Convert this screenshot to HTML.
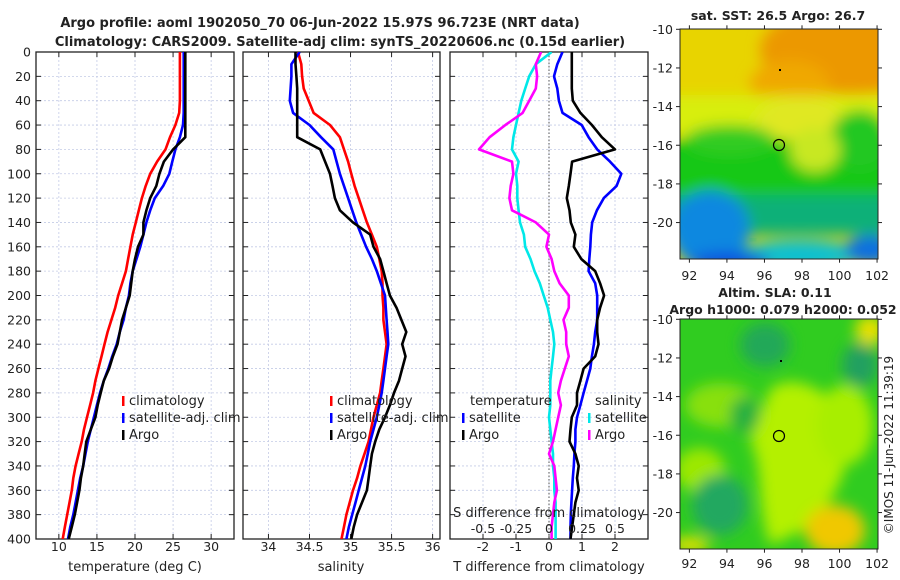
<!DOCTYPE html>
<html><head><meta charset="utf-8">
<style>
html,body{margin:0;padding:0;background:#fff;}
svg{display:block;font-family:"DejaVu Sans","Liberation Sans",sans-serif;}
text{fill:#222;}
</style></head>
<body>
<svg id="fig" width="900" height="580" viewBox="0 0 900 580">
<defs>
<filter id="bl" x="-20%" y="-20%" width="140%" height="140%"><feGaussianBlur stdDeviation="7"/></filter>
<clipPath id="c1"><rect x="680" y="29" width="198" height="230"/></clipPath>
<clipPath id="c2"><rect x="680" y="319" width="198" height="230"/></clipPath>
<clipPath id="p1"><rect x="36" y="52" width="198" height="487"/></clipPath>
<clipPath id="p2"><rect x="243" y="52" width="197" height="487"/></clipPath>
<clipPath id="p3"><rect x="450" y="52" width="198" height="487"/></clipPath>
</defs>
<text x="320" y="27" text-anchor="middle" font-size="13" font-weight="bold">Argo profile: aoml 1902050_70 06-Jun-2022 15.97S 96.723E (NRT data)</text>
<text x="340" y="46" text-anchor="middle" font-size="13" font-weight="bold">Climatology: CARS2009. Satellite-adj clim: synTS_20220606.nc (0.15d earlier)</text>

<g clip-path="url(#c1)">
<rect x="680" y="29" width="198" height="230" fill="#e8d400"/>
<g filter="url(#bl)">
<ellipse cx="850" cy="50" rx="90" ry="45" fill="#ec9800"/>
<ellipse cx="790" cy="85" rx="40" ry="25" fill="#f0a800"/>
<rect x="660" y="95" width="240" height="40" fill="#d8ee10"/>
<ellipse cx="800" cy="125" rx="45" ry="30" fill="#e0e820"/>
<rect x="660" y="140" width="240" height="55" fill="#18c818"/>
<ellipse cx="730" cy="140" rx="45" ry="15" fill="#30cc20"/>
<ellipse cx="860" cy="140" rx="30" ry="30" fill="#20c820"/>
<ellipse cx="815" cy="150" rx="25" ry="22" fill="#c8e820"/>
<rect x="660" y="195" width="240" height="40" fill="#10b078"/>
<ellipse cx="710" cy="230" rx="40" ry="40" fill="#1088e0"/>
<ellipse cx="800" cy="255" rx="60" ry="15" fill="#10c0d0"/>
<ellipse cx="870" cy="250" rx="25" ry="15" fill="#1070e0"/>
<ellipse cx="730" cy="262" rx="40" ry="10" fill="#1050e0"/>
</g>
</g>
<rect x="680" y="29" width="198" height="230" fill="none" stroke="#222" stroke-width="1"/>
<circle cx="779" cy="145" r="5.5" fill="none" stroke="#000" stroke-width="1.2"/>
<rect x="779" y="69" width="2" height="2" fill="#000"/>
<text x="778" y="20" text-anchor="middle" font-size="12.5" font-weight="bold">sat. SST: 26.5 Argo: 26.7</text>

<g clip-path="url(#c2)">
<rect x="680" y="319" width="198" height="230" fill="#30cc20"/>
<g filter="url(#bl)">
<path d="M770,390 C790,370 840,390 845,430 C855,470 830,500 815,525 L770,545 C755,500 765,470 750,440 Z" fill="#b4f000"/>
<ellipse cx="845" cy="425" rx="28" ry="40" fill="#a8ee00"/>
<ellipse cx="720" cy="405" rx="35" ry="22" fill="#88e010"/>
<ellipse cx="700" cy="470" rx="25" ry="22" fill="#9ce800"/>
<ellipse cx="835" cy="530" rx="30" ry="25" fill="#f0c800"/>
<ellipse cx="870" cy="330" rx="15" ry="15" fill="#e8e000"/>
<ellipse cx="720" cy="505" rx="28" ry="30" fill="#20a860"/>
<ellipse cx="765" cy="345" rx="25" ry="22" fill="#20a858"/>
<ellipse cx="860" cy="365" rx="18" ry="22" fill="#20a060"/>
<ellipse cx="745" cy="415" rx="15" ry="18" fill="#28b040"/>
<ellipse cx="690" cy="545" rx="20" ry="8" fill="#e8e000"/>
</g>
</g>
<rect x="680" y="319" width="198" height="230" fill="none" stroke="#222" stroke-width="1"/>
<circle cx="779" cy="436" r="5.5" fill="none" stroke="#000" stroke-width="1.2"/>
<rect x="780" y="360" width="2" height="2" fill="#000"/>
<text x="775" y="297" text-anchor="middle" font-size="12.5" font-weight="bold">Altim. SLA: 0.11</text>
<text x="783" y="314" text-anchor="middle" font-size="12.5" font-weight="bold">Argo h1000: 0.079 h2000: 0.052</text>
<text transform="translate(893,445) rotate(-90)" text-anchor="middle" font-size="12">©IMOS 11-Jun-2022 11:39:19</text>
<g id="g"></g>
</svg>
<script>
// ---- data ----
const depths=[0,10,20,30,40,50,60,70,80,90,100,110,120,130,140,150,160,170,180,190,200,210,220,230,240,250,260,270,280,290,300,310,320,330,340,350,360,370,380,390,400];
const tClim=[25.9,25.9,25.9,25.9,25.9,25.8,25.3,24.6,24.0,22.9,22.0,21.4,20.9,20.5,20.1,19.7,19.4,19.1,18.8,18.3,17.8,17.4,16.9,16.4,16.0,15.6,15.2,14.8,14.5,14.1,13.7,13.3,13.0,12.6,12.2,11.9,11.7,11.4,11.1,10.8,10.5];
const tSat=[26.4,26.4,26.4,26.4,26.4,26.4,26.3,25.9,25.3,24.9,24.5,23.7,22.6,22.0,21.5,21.1,20.7,20.2,19.7,19.4,19.2,18.8,18.5,18.0,17.6,17.0,16.5,15.9,15.4,15.0,14.6,14.2,13.8,13.5,13.2,12.8,12.5,12.2,11.9,11.5,11.2];
const tArgo=[26.6,26.6,26.6,26.6,26.6,26.6,26.6,26.6,25.0,23.8,23.2,22.8,22.0,21.5,21.1,21.1,20.4,20.0,19.7,19.5,19.3,18.8,18.3,18.0,17.7,17.1,16.6,15.9,15.5,15.1,14.8,14.2,13.6,13.4,13.2,12.9,12.7,12.4,12.1,11.7,11.3];
const sClim=[34.36,34.40,34.41,34.43,34.49,34.55,34.75,34.87,34.92,34.97,35.01,35.05,35.10,35.15,35.20,35.26,35.32,35.35,35.38,35.39,35.39,35.40,35.40,35.42,35.44,35.42,35.40,35.38,35.36,35.32,35.28,35.25,35.22,35.17,35.12,35.08,35.03,34.99,34.95,34.92,34.89];
const sSat=[34.38,34.28,34.28,34.27,34.26,34.30,34.50,34.64,34.79,34.83,34.87,34.92,34.97,35.02,35.07,35.13,35.19,35.26,35.32,35.37,35.42,35.43,35.44,35.45,35.46,35.44,35.42,35.40,35.38,35.35,35.32,35.28,35.24,35.21,35.18,35.14,35.10,35.06,35.02,34.98,34.95];
const sArgo=[34.33,34.33,34.34,34.35,34.35,34.35,34.35,34.35,34.63,34.69,34.75,34.78,34.81,34.87,35.03,35.24,35.28,35.36,35.40,35.44,35.48,35.56,35.62,35.68,35.63,35.67,35.63,35.59,35.53,35.48,35.42,35.35,35.30,35.26,35.24,35.22,35.20,35.14,35.08,35.04,35.01];
const dTArgo=[0.69,0.69,0.69,0.69,0.72,0.95,1.3,1.6,2.0,0.7,0.65,0.6,0.54,0.62,0.66,0.8,0.75,0.98,1.4,1.55,1.67,1.55,1.46,1.46,1.5,1.4,1.05,0.95,0.85,0.85,0.69,0.65,0.62,0.8,0.9,0.85,0.9,0.8,0.75,0.7,0.65];
const dTSat=[0.41,0.25,0.15,0.25,0.3,0.41,0.99,1.2,1.46,1.85,2.19,2.05,1.66,1.45,1.31,1.27,1.25,1.22,1.2,1.4,1.46,1.46,1.46,1.4,1.36,1.3,1.25,1.15,1.05,0.95,0.85,0.8,0.8,0.77,0.75,0.72,0.7,0.68,0.66,0.65,0.65];
const dSArgo=[-0.06,-0.1,-0.09,-0.1,-0.15,-0.2,-0.33,-0.45,-0.53,-0.28,-0.27,-0.29,-0.3,-0.28,-0.1,0.0,-0.02,0.02,0.04,0.08,0.15,0.15,0.11,0.13,0.13,0.15,0.12,0.09,0.07,0.09,0.07,0.05,0.03,0.0,0.04,0.05,0.06,0.04,0.03,0.02,0.02];
const dSSat=[0.02,-0.1,-0.15,-0.18,-0.21,-0.23,-0.25,-0.27,-0.28,-0.23,-0.25,-0.24,-0.24,-0.23,-0.22,-0.19,-0.18,-0.14,-0.11,-0.07,-0.04,-0.01,0.01,0.03,0.04,0.03,0.02,0.01,0.01,0.01,0.0,0.01,0.02,0.03,0.03,0.04,0.04,0.05,0.05,0.05,0.05];
const depthTicks=[0,20,40,60,80,100,120,140,160,180,200,220,240,260,280,300,320,340,360,380,400];
const tTicks=[10,15,20,25,30];
const sTicks=[34,34.5,35,35.5,36];
const sTickLabels=["34","34.5","35","35.5","36"];
const dTTicks=[-2,-1,0,1,2];
const dSTicks=[-0.5,-0.25,0,0.25,0.5];
const lonTicks=[92,94,96,98,100,102];
const latTicks=[-10,-12,-14,-16,-18,-20];

const NS="http://www.w3.org/2000/svg";
const G=document.getElementById('g');
function mk(tag,attrs,parent){const e=document.createElementNS(NS,tag);for(const k in attrs)e.setAttribute(k,attrs[k]);(parent||G).appendChild(e);return e;}
const Y0=52,Y1=539;
const yD=d=>Y0+(d/400)*(Y1-Y0);
function lin(d0,d1,r0,r1){return v=>r0+(v-d0)/(d1-d0)*(r1-r0);}
const panels=[
 {x0:36,x1:234,lo:7,hi:33,clip:'p1',name:'temperature-panel'},
 {x0:243,x1:440,lo:33.69,hi:36.09,clip:'p2',name:'salinity-panel'},
 {x0:450,x1:648,lo:-3,hi:3,clip:'p3',name:'difference-panel'}];
panels.forEach(p=>p.x=lin(p.lo,p.hi,p.x0,p.x1));

function panelFrame(p,xt,labels,ticklabelY){
 const g=mk('g',{});
 
 
 depthTicks.forEach(d=>{mk('line',{x1:p.x0,x2:p.x1,y1:yD(d),y2:yD(d),stroke:'#c4cbe6','stroke-width':0.8,'stroke-dasharray':'2,2'},g);
  mk('line',{x1:p.x0,x2:p.x0+5,y1:yD(d),y2:yD(d),stroke:'#222'},g);mk('line',{x1:p.x1-5,x2:p.x1,y1:yD(d),y2:yD(d),stroke:'#222'},g);});
 xt.forEach((v,i)=>{const X=p.x(v);mk('line',{x1:X,x2:X,y1:Y0,y2:Y1,stroke:'#c4cbe6','stroke-width':0.8,'stroke-dasharray':'2,2'},g);
  mk('line',{x1:X,x2:X,y1:Y1-5,y2:Y1,stroke:'#222'},g);mk('line',{x1:X,x2:X,y1:Y0,y2:Y0+5,stroke:'#222'},g);
  const t=mk('text',{x:X,y:ticklabelY,'text-anchor':'middle','font-size':12.5},g);t.textContent=labels[i];
  
  });
 mk('rect',{x:p.x0,y:Y0,width:p.x1-p.x0,height:Y1-Y0,fill:'none',stroke:'#222','stroke-width':1.3},g);
 return g;
}
function series(p,vals,color,name){
 const pts=vals.map((v,i)=>p.x(v).toFixed(1)+','+yD(depths[i]).toFixed(1)).join(' ');
 const e=mk('polyline',{points:pts,fill:'none',stroke:color,'stroke-width':2.6,'stroke-linejoin':'round','clip-path':'url(#'+p.clip+')'});
 
 
}
function legend(x,y,color,label,name){
 mk('rect',{x:x,y:y-9,width:2.5,height:10,fill:color});
 const t=mk('text',{x:x+7,y:y,'font-size':13});t.textContent=label;
 
 
}
const P1=panels[0],P2=panels[1],P3=panels[2];
panelFrame(P1,tTicks,tTicks.map(String),551);
panelFrame(P2,sTicks,sTickLabels,551);
panelFrame(P3,dTTicks,dTTicks.map(String),551);
depthTicks.forEach(d=>{const t=mk('text',{x:31,y:yD(d)+4.5,'text-anchor':'end','font-size':12.5});t.textContent=String(d);
 
 });
mk('line',{x1:P3.x(0),x2:P3.x(0),y1:Y0,y2:Y1,stroke:'#555','stroke-width':1,'stroke-dasharray':'1.5,2'});
series(P1,tClim,'#ff0000','temp-climatology-line');
series(P1,tSat,'#0000ff','temp-satellite-line');
series(P1,tArgo,'#000000','temp-argo-line');
series(P2,sClim,'#ff0000','sal-climatology-line');
series(P2,sSat,'#0000ff','sal-satellite-line');
series(P2,sArgo,'#000000','sal-argo-line');
const P3s=Object.assign({},P3,{x:lin(-0.75,0.75,P3.x0,P3.x1)});
series(P3s,dSSat,'#00e8e8','dsal-satellite-line');
series(P3s,dSArgo,'#ff00ff','dsal-argo-line');
series(P3,dTSat,'#0000ff','dtemp-satellite-line');
series(P3,dTArgo,'#000000','dtemp-argo-line');
dSTicks.forEach((v,i)=>{const t=mk('text',{x:P3s.x(v),y:533,'text-anchor':'middle','font-size':12.5});t.textContent=String(v);
 
 });
let t=mk('text',{x:549,y:517,'text-anchor':'middle','font-size':13});t.textContent='S difference from climatology';

t=mk('text',{x:135,y:571,'text-anchor':'middle','font-size':13});t.textContent='temperature (deg C)';

t=mk('text',{x:341,y:571,'text-anchor':'middle','font-size':13});t.textContent='salinity';

t=mk('text',{x:549,y:571,'text-anchor':'middle','font-size':13});t.textContent='T difference from climatology';

legend(122,405,'#ff0000','climatology','legend-climatology');
legend(122,422,'#0000ff','satellite-adj. clim','legend-satellite-adj');
legend(122,439,'#000000','Argo','legend-argo');
legend(330,405,'#ff0000','climatology','legend-climatology-sal');
legend(330,422,'#0000ff','satellite-adj. clim','legend-satellite-adj-sal');
legend(330,439,'#000000','Argo','legend-argo-sal');
t=mk('text',{x:470,y:405,'font-size':13});t.textContent='temperature';

t=mk('text',{x:595,y:405,'font-size':13});t.textContent='salinity';

legend(462,422,'#0000ff','satellite','legend-t-satellite');
legend(462,439,'#000000','Argo','legend-t-argo');
legend(588,422,'#00e8e8','satellite','legend-s-satellite');
legend(588,439,'#ff00ff','Argo','legend-s-argo');
function mapAxes(top,bot,lat0,lat1,labY,name){
 const lx=lin(91.5,102.05,680,878), ly=lin(lat0,lat1,top,bot);
 lonTicks.forEach(v=>{const X=lx(v);mk('line',{x1:X,x2:X,y1:bot,y2:bot+4,stroke:'#222'});mk('line',{x1:X,x2:X,y1:top-4,y2:top,stroke:'#222'});
  const tt=mk('text',{x:X,y:labY,'text-anchor':'middle','font-size':12.5});tt.textContent=String(v);
  });
 latTicks.forEach(v=>{const Y=ly(v);mk('line',{x1:676,x2:680,y1:Y,y2:Y,stroke:'#222'});mk('line',{x1:878,x2:882,y1:Y,y2:Y,stroke:'#222'});
  const tt=mk('text',{x:673,y:Y+4.5,'text-anchor':'end','font-size':12.5});tt.textContent=String(v);
  });
}
mapAxes(29.3,258.7,-10,-21.87,280,'sst-map');
mapAxes(319.3,548.7,-10,-21.87,568,'sla-map');
</script>
</body></html>
